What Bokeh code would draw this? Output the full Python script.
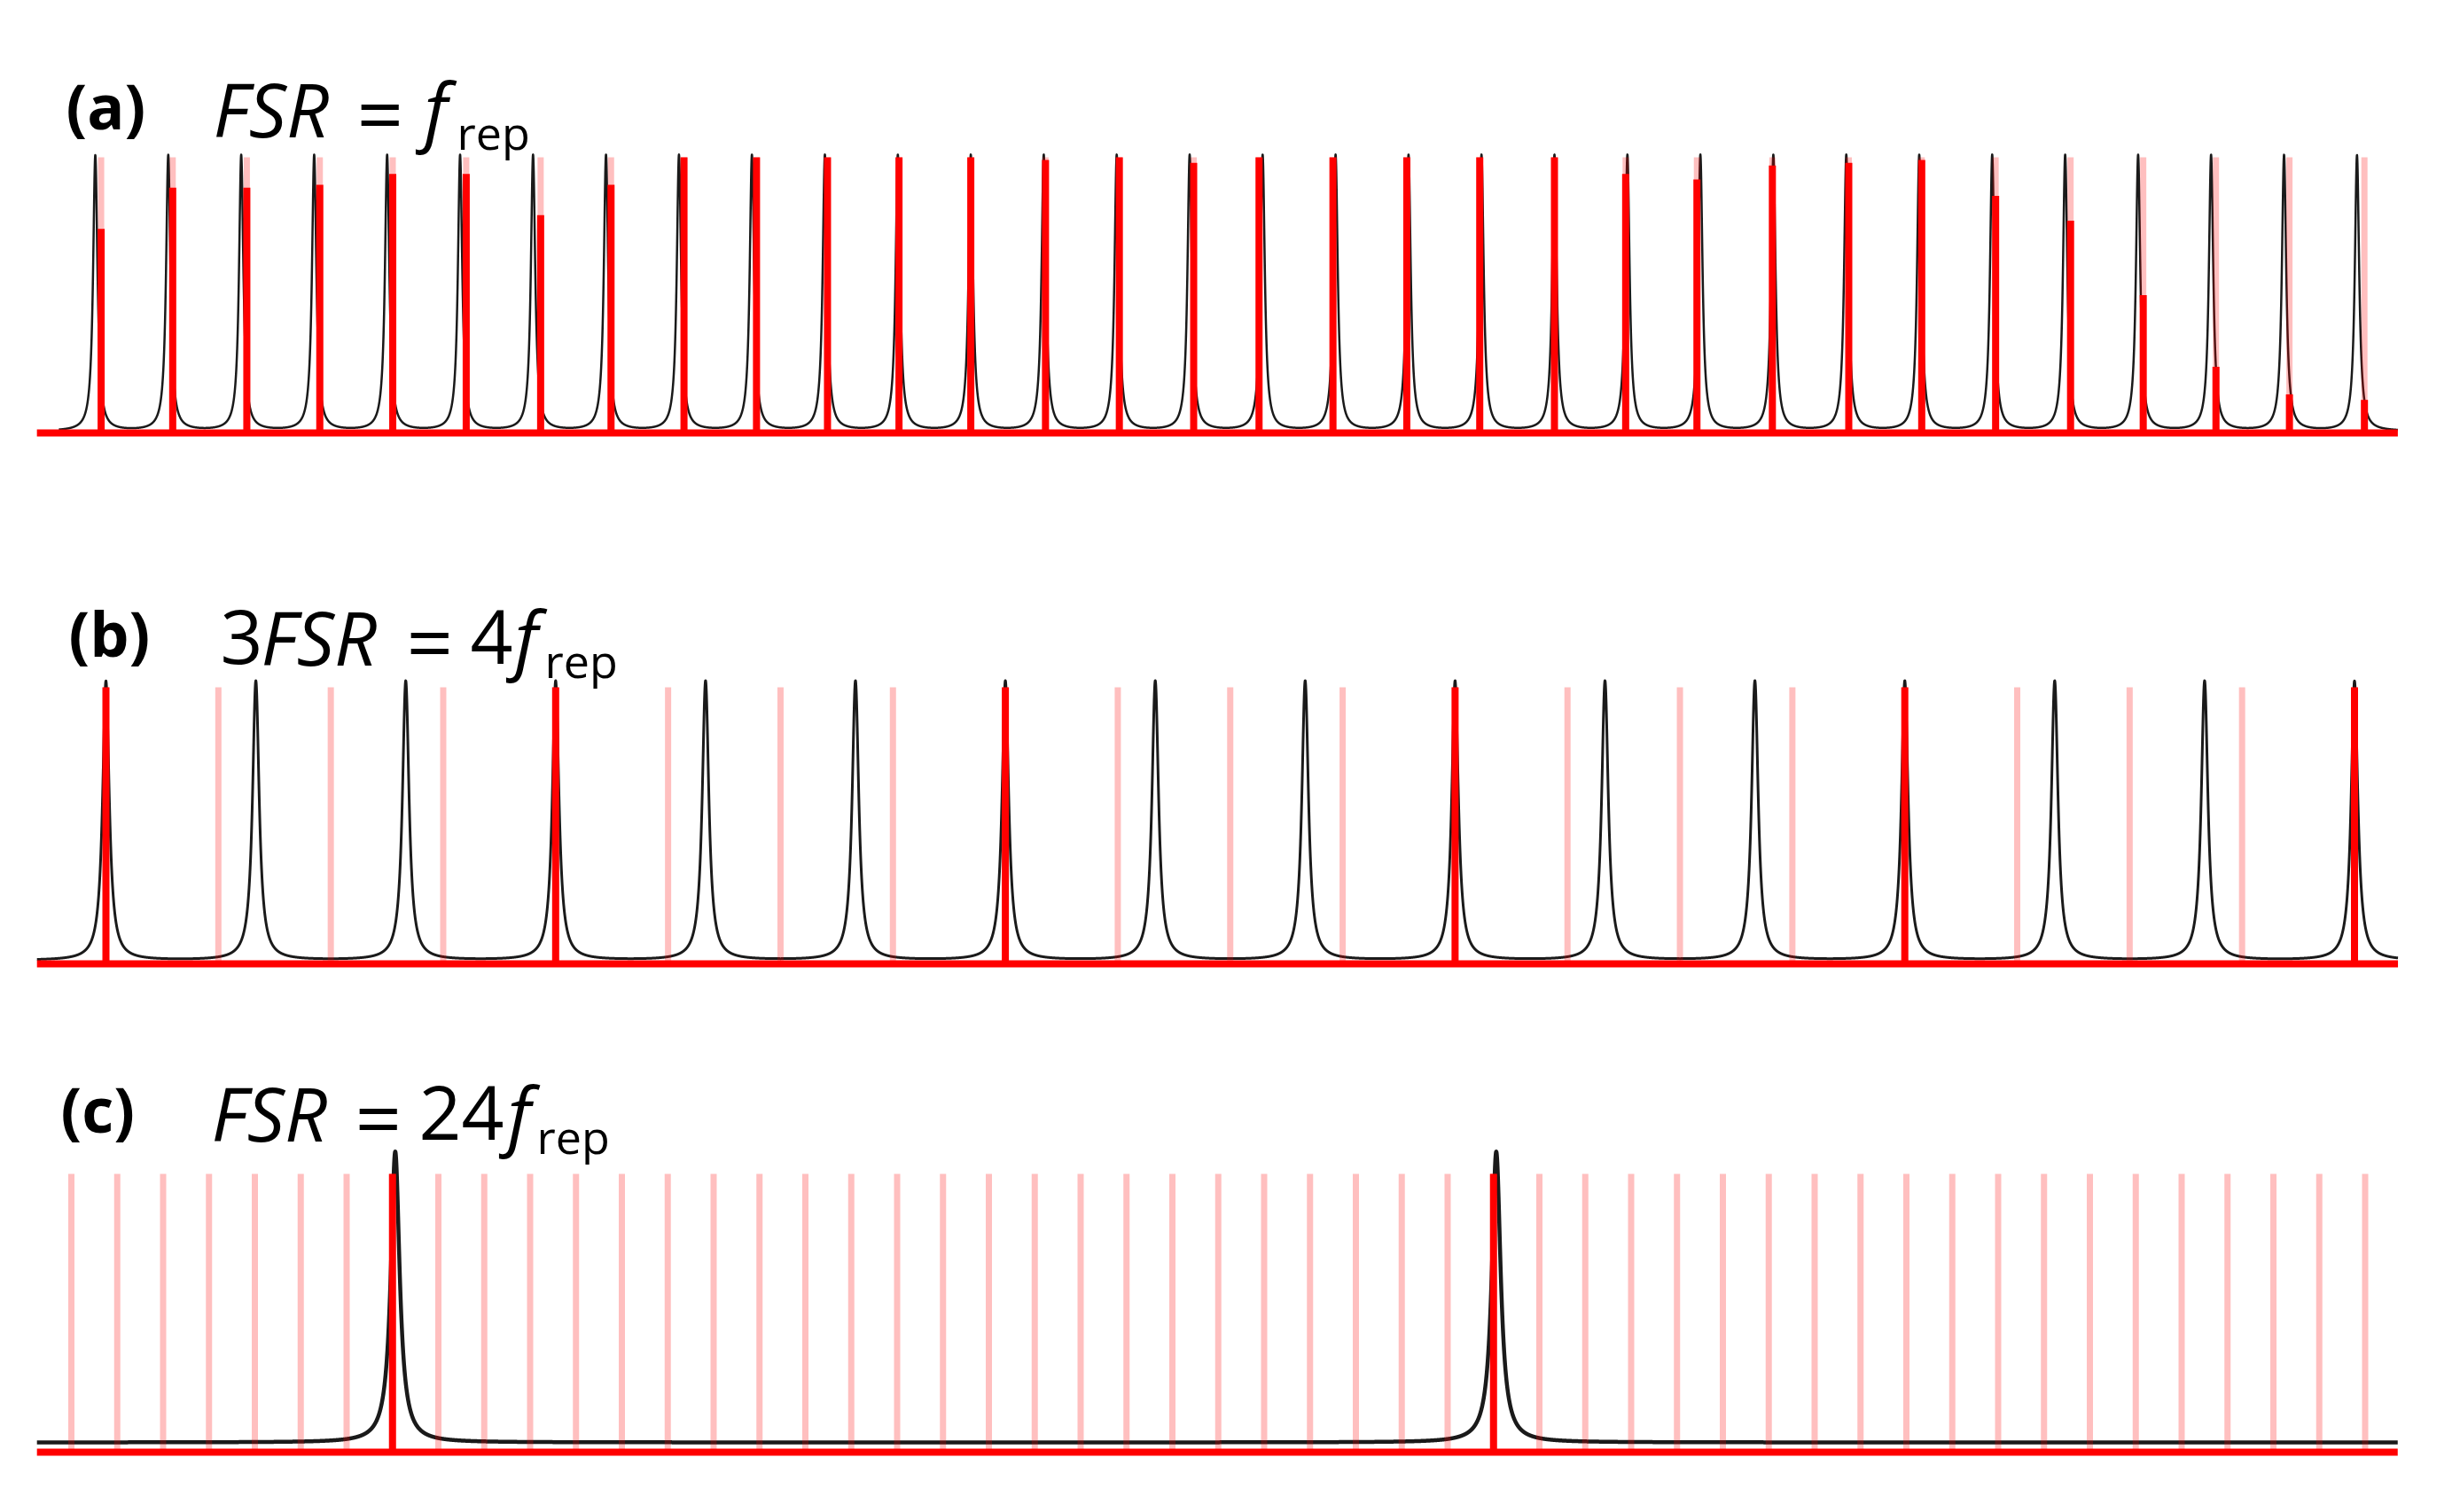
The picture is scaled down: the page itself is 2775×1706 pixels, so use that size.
import numpy as np
from bokeh.plotting import figure
from bokeh.models import Range1d, Label, ColumnDataSource
from bokeh.layouts import column
from bokeh.embed import file_html
from bokeh.resources import INLINE

# ---------------- data ----------------
# (a) FSR = f_rep : cavity resonances (units of FSR) and comb lines
a_resonances = [0, 1, 2, 3, 4, 5, 6, 7, 8, 9, 10, 11, 12, 13, 14, 15,
                16, 17, 18, 19, 20, 21, 22, 23, 24, 25, 26, 27, 28, 29, 30, 31]
a_comb_offset = [0.080, 0.061, 0.077, 0.077, 0.077, 0.084, 0.104, 0.069, 0.069, 0.063,
                 0.036, 0.016, 0.000, 0.024, 0.036, 0.055, -0.049, -0.036, -0.024, -0.024,
                 0.000, -0.024, -0.047, -0.013, 0.034, 0.034, 0.047, 0.074, 0.070, 0.067,
                 0.074, 0.102]
a_transmitted = [0.74, 0.89, 0.89, 0.90, 0.94, 0.94, 0.79, 0.90, 1.00, 1.00,
                 1.00, 1.00, 1.00, 0.99, 1.00, 0.98, 1.00, 1.00, 1.00, 1.00,
                 1.00, 0.94, 0.92, 0.97, 0.98, 0.99, 0.86, 0.77, 0.50, 0.24,
                 0.14, 0.12]
a_span = [-0.80, 31.56]       # extent of the frequency axis (FSR units)
a_curve_span = [-0.50, 31.56]

# (b) 3FSR = 4 f_rep : resonances (FSR units) and comb lines (FSR units)
b_resonances = [0, 1, 2, 3, 4, 5, 6, 7, 8, 9, 10, 11, 12, 13, 14, 15]
b_comb = [0.0, 0.75, 1.5, 2.25, 3.0, 3.75, 4.5, 5.25, 6.0, 6.75, 7.5,
          8.25, 9.0, 9.75, 10.5, 11.25, 12.0, 12.75, 13.5, 14.25, 15.0]
b_transmitted = [1.0, 0, 0, 0, 1.0, 0, 0, 0, 1.0, 0, 0, 0, 1.0, 0, 0, 0,
                 1.0, 0, 0, 0, 1.0]
b_span = [-0.46, 15.29]

# (c) FSR = 24 f_rep : resonances and comb lines (units of f_rep)
c_resonances = [7.06, 31.06]
c_comb = list(range(51))
c_transmitted = [1.0 if k in (7, 31) else 0.0 for k in c_comb]
c_span = [-0.75, 50.71]

# ---------------- styling ----------------
PAGE_L, PAGE_R = 0, 2767
RED = "#ff0000"
FONT = "Open Sans"
MAIN = 84
EQ = 92
SUB = 52
TAG = 70


def make_panel(top, h, base_py, unit_py, x0_px, unit_px):
    xr = Range1d((PAGE_L - x0_px) / unit_px, (PAGE_R - x0_px) / unit_px)
    yr = Range1d(-(top + h - base_py) / unit_py, (base_py - top) / unit_py)
    p = figure(width=PAGE_R - PAGE_L, height=h, x_range=xr, y_range=yr,
               output_backend="svg", toolbar_location=None,
               x_axis_type=None, y_axis_type=None, min_border=0,
               outline_line_color=None, background_fill_color="white",
               border_fill_color="white")
    p.grid.grid_line_color = None
    conv = (lambda px: (px - x0_px) / unit_px, lambda py: (base_py - py) / unit_py)
    return p, conv


def lorentz_curve(span, centers, gamma, height, floor, n=24000):
    x = np.linspace(span[0], span[1], n)
    y = np.full_like(x, floor)
    for c in centers:
        y += height / (1.0 + ((x - c) / gamma) ** 2)
    return x, y


def draw(p, span, curve_span, res, gamma, height, floor, comb, trans, black_w):
    x, y = lorentz_curve(curve_span, res, gamma, height, floor)
    p.line(x, y, line_color="#1a1a1a", line_width=black_w, line_join="round")
    src = ColumnDataSource(dict(x=comb, y0=[0] * len(comb), top=[1.0] * len(comb),
                                h=trans))
    p.segment(x0="x", y0="y0", x1="x", y1="top", source=src,
              line_color=RED, line_alpha=0.25, line_width=7, line_cap="butt")
    p.segment(x0="x", y0="y0", x1="x", y1="h", source=src,
              line_color=RED, line_width=8, line_cap="butt")
    p.line(span, [0, 0], line_color=RED, line_width=8, line_cap="butt")


def title(p, conv, pieces):
    cx, cy = conv
    for (txt, px, py, size, style) in pieces:
        p.add_layout(Label(x=cx(px), y=cy(py), text=txt, text_font=FONT,
                           text_font_size=f"{size}px", text_font_style=style,
                           text_color="black", text_align="left",
                           text_baseline="alphabetic"))


# ---- panel (a) ----
pa, conv_a = make_panel(0, 560, 488, 311, 107, 82.3)
a_comb = [r + o for r, o in zip(a_resonances, a_comb_offset)]
draw(pa, a_span, a_curve_span, a_resonances, 0.036, 1.0, 0.006,
     a_comb, a_transmitted, 2.5)
title(pa, conv_a, [("(a)", 74, 118, TAG, "bold"),
                   ("FSR", 240, 122, MAIN, "italic"),
                   ("=", 402, 126, EQ, "normal"),
                   ("f", 478, 122, MAIN, "italic"),
                   ("rep", 515, 148, SUB, "normal")])

# ---- panel (b) ----
pb, conv_b = make_panel(560, 560, 1087, 312, 119, 169.1)
draw(pb, b_span, b_span, b_resonances, 0.0266, 1.01, 0.012,
     b_comb, b_transmitted, 3)
title(pb, conv_b, [("(b)", 77, 713, TAG, "bold"),
                   ("3", 248, 718, MAIN, "normal"),
                   ("FSR", 294, 718, MAIN, "italic"),
                   ("=", 458, 722, EQ, "normal"),
                   ("4", 530, 718, MAIN, "normal"),
                   ("f", 580, 718, MAIN, "italic"),
                   ("rep", 614, 744, SUB, "normal")])

# ---- panel (c) ----
pc, conv_c = make_panel(1120, 578, 1638, 314, 80, 51.75)
draw(pc, c_span, c_span, c_resonances, 0.116, 1.045, 0.035,
     c_comb, c_transmitted, 4.5)
title(pc, conv_c, [("(c)", 68, 1250, TAG, "bold"),
                   ("FSR", 238, 1255, MAIN, "italic"),
                   ("=", 400, 1259, EQ, "normal"),
                   ("24", 472, 1255, MAIN, "normal"),
                   ("f", 572, 1255, MAIN, "italic"),
                   ("rep", 605, 1281, SUB, "normal")])

layout = column(pa, pb, pc, spacing=0)
open("out.html", "w").write(file_html(layout, INLINE))
